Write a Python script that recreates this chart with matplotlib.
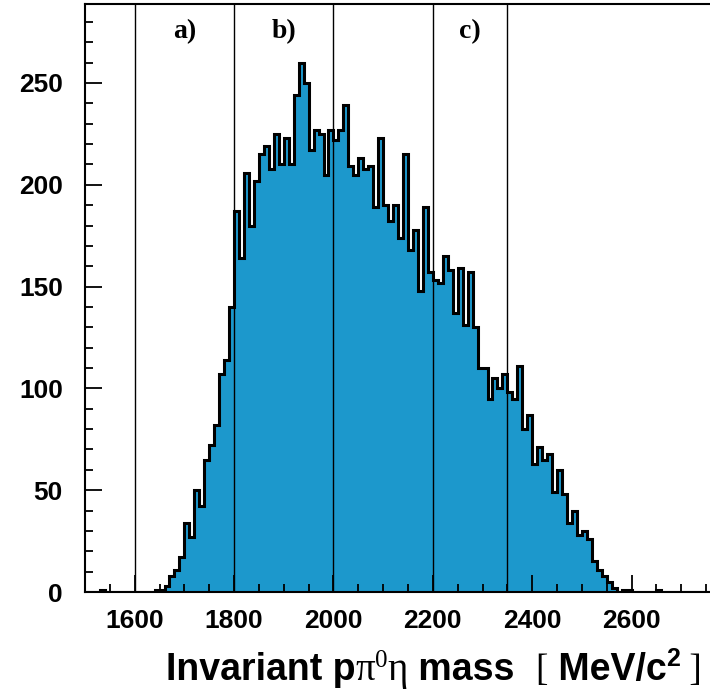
import matplotlib
matplotlib.use("Agg")
import matplotlib.pyplot as plt
import numpy as np

# 10 MeV bins from 1500 to 2800 MeV/c^2
bin_lo, bin_hi, bin_w = 1500, 2800, 10
counts = (
    [0, 0, 0, 1, 0, 0, 0, 0, 0, 0]                                  # 1500
    + [0, 0, 0, 0, 1, 1, 3, 8, 11, 17]                              # 1600
    + [34, 27, 50, 42, 65, 72, 82, 107, 114, 140]                   # 1700
    + [187, 164, 206, 180, 202, 215, 219, 208, 225, 210]            # 1800
    + [223, 210, 244, 260, 250, 217, 227, 225, 205, 227]            # 1900
    + [222, 227, 239, 209, 205, 213, 208, 209, 189, 223]            # 2000
    + [190, 182, 190, 174, 215, 168, 178, 148, 189, 157]            # 2100
    + [153, 152, 165, 158, 137, 159, 131, 157, 130, 110]            # 2200
    + [110, 95, 105, 100, 107, 98, 95, 111, 80, 87]                 # 2300
    + [63, 71, 65, 68, 49, 60, 48, 34, 40, 28]                      # 2400
    + [30, 26, 15, 11, 8, 5, 2, 0, 1, 1]                            # 2500
    + [0, 0, 0, 0, 0, 1, 0, 0, 0, 0]                                # 2600
    + [0, 0, 0, 0, 0, 0, 0, 0, 0, 0]                                # 2700
)
region_bounds = [1600, 1800, 2000, 2200, 2350]
region_labels = ["a)", "b)", "c)"]
region_label_x = [1700, 1900, 2275]
x_ticks = [1600, 1800, 2000, 2200, 2400, 2600]
y_ticks = [0, 50, 100, 150, 200, 250]

FILL = "#1c98cc"
W, H = 710, 697

edges = np.arange(bin_lo, bin_hi + bin_w, bin_w)

fig = plt.figure(figsize=(W / 100, H / 100), dpi=100)
ax = fig.add_axes([85 / W, 105 / H, 646 / W, 588 / H])

ax.stairs(counts, edges, fill=True, color=FILL, lw=0)
ax.stairs(counts, edges, color="black", lw=2.2)

for xb in region_bounds:
    ax.axvline(xb, color="black", lw=1.0)
for lab, xl in zip(region_labels, region_label_x):
    ax.text(xl, 275, lab, ha="center", va="center", fontsize=20,
            fontweight="bold", family="Liberation Serif")

ax.set_xlim(bin_lo, bin_hi)
ax.set_ylim(0, 288.8)
ax.set_xticks(x_ticks)
ax.set_xticks(np.arange(1500, 2801, 50), minor=True)
ax.set_yticks(y_ticks)
ax.set_yticks(np.arange(0, 281, 10), minor=True)

ax.tick_params(which="both", direction="in", width=1.3, top=False, right=False)
ax.tick_params(which="major", length=12)
ax.tick_params(which="minor", length=6)
ax.tick_params(axis="x", pad=12)
ax.tick_params(axis="y", pad=16)
for lab in ax.get_xticklabels() + ax.get_yticklabels():
    lab.set_fontfamily("Liberation Sans")
    lab.set_fontweight("bold")
    lab.set_fontsize(19)
for sp in ax.spines.values():
    sp.set_linewidth(1.5)

# x axis title assembled from pieces (sans bold + serif greek letters)
renderer = fig.canvas.get_renderer()
pieces = [
    ("Invariant p", "Liberation Sans", "bold", 27, 0),
    ("\u03c0", "Liberation Serif", "normal", 28, 0),
    ("0", "Liberation Serif", "normal", 18, 13),
    ("\u03b7", "Liberation Serif", "normal", 28, 0),
    (" mass  ", "Liberation Sans", "bold", 27, 0),
    ("[", "Liberation Serif", "normal", 27, 0),
    (" MeV/c", "Liberation Sans", "bold", 27, 0),
    ("2", "Liberation Sans", "bold", 18, 14),
    (" ]", "Liberation Serif", "normal", 27, 0),
]
xpos, base = 166, 17
for s, fam, wt, fs, rise in pieces:
    t = fig.text(xpos / W, (base + rise) / H, s, family=fam, fontweight=wt,
                 fontsize=fs, ha="left", va="baseline")
    xpos += t.get_window_extent(renderer).width

fig.savefig("out.png", dpi=100)
